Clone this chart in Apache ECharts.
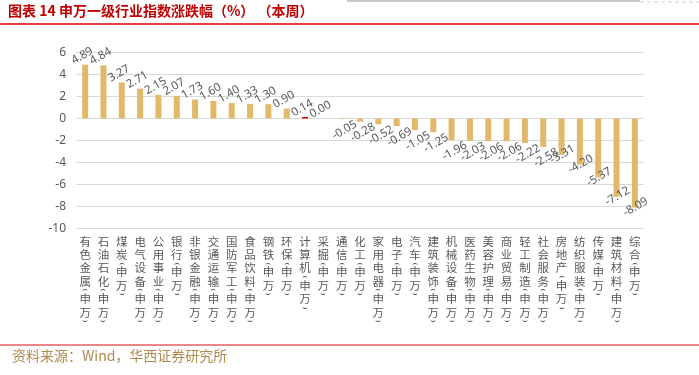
<!DOCTYPE html>
<html>
<head>
<meta charset="utf-8">
<script src="https://cdn.jsdelivr.net/npm/echarts@6/dist/echarts.min.js"></script>
<style>
html,body{margin:0;padding:0;background:#fff;}
#c{width:699px;height:375px;}
</style>
</head>
<body>
<div id="c"></div>
<script>
const titleText = '图表 14 申万一级行业指数涨跌幅（%） （本周）';
const sourceText = '资料来源：Wind，华西证券研究所';
const categories = ['有色金属(申万)','石油石化(申万)','煤炭(申万)','电气设备(申万)','公用事业(申万)','银行(申万)','非银金融(申万)','交通运输(申万)','国防军工(申万)','食品饮料(申万)','钢铁(申万)','环保(申万)','计算机(申万)','采掘(申万)','通信(申万)','化工(申万)','家用电器(申万)','电子(申万)','汽车(申万)','建筑装饰(申万)','机械设备(申万)','医药生物(申万)','美容护理(申万)','商业贸易(申万)','轻工制造(申万)','社会服务(申万)','房地产(申万)','纺织服装(申万)','传媒(申万)','建筑材料(申万)','综合(申万)'];
const values = [4.89,4.84,3.27,2.71,2.15,2.07,1.73,1.60,1.40,1.33,1.30,0.90,0.14,0.00,-0.05,-0.28,-0.52,-0.69,-1.05,-1.25,-1.96,-2.03,-2.06,-2.06,-2.22,-2.58,-3.31,-4.20,-5.37,-7.12,-8.09];
const highlighted = ['计算机(申万)'];
const yTicks = [6,4,2,0,-2,-4,-6,-8,-10];

const barColor = '#E2B86A';
const hiColor = '#E00000';
const grey = '#595959';
const font = '"Noto Sans", "Noto Sans CJK SC", sans-serif';

function catLabel(name){
  const m = name.match(/^(.*)\((.*)\)$/);
  const base = m ? m[1] : name;
  const inner = m ? m[2] : '';
  const lines = [];
  for (const ch of base) lines.push('{c|' + ch + '}');
  if (m) {
    lines.push('{p|\u2322}');
    for (const ch of inner) lines.push('{c|' + ch + '}');
    lines.push('{p|\u2323}');
  }
  return lines.join('\n');
}

const data = values.map((v, i) => {
  const neg = v < 0;
  const deep = v < -3;
  return {
    value: v,
    itemStyle: { color: highlighted.includes(categories[i]) ? hiColor : barColor },
    label: {
      position: neg ? 'bottom' : 'top',
      distance: neg ? 6 : 4,
      offset: deep ? [4, -11] : [0, 0]
    }
  };
});

const chart = echarts.init(document.getElementById('c'), null, {renderer: 'canvas'});
chart.setOption({
  backgroundColor: '#fff',
  animation: false,
  textStyle: { fontFamily: font },
  grid: { left: 76, right: 55, top: 52.5, bottom: 146.5, containLabel: false },
  xAxis: {
    type: 'category',
    data: categories,
    position: 'bottom',
    axisLine: { show: false },
    axisTick: { show: false },
    axisLabel: {
      interval: 0,
      margin: 6,
      color: grey,
      formatter: catLabel,
      verticalAlign: 'top',
      rich: {
        c: { fontSize: 11.5, lineHeight: 13.4, color: grey, fontFamily: '"Noto Sans CJK SC", sans-serif' },
        p: { fontSize: 9, lineHeight: 4, color: grey, fontFamily: '"DejaVu Sans", sans-serif' }
      }
    }
  },
  yAxis: {
    type: 'value',
    min: -10, max: 6, interval: 2,
    axisLine: { show: false },
    axisTick: { show: false },
    axisLabel: { color: grey, fontSize: 12, margin: 10 },
    splitLine: { lineStyle: { color: '#D9D9D9', width: 1 } }
  },
  series: [{
    type: 'bar',
    data: data,
    barWidth: 6,
    label: {
      show: true,
      rotate: 30,
      color: grey,
      fontSize: 11.5,
      formatter: p => p.value.toFixed(2)
    }
  }],
  graphic: [
    { type: 'text', left: 8, top: 4, style: { text: titleText, fill: '#C00000', font: 'bold 14px "Noto Sans CJK SC", sans-serif' } },
    { type: 'line', shape: { x1: 0, y1: 24, x2: 699, y2: 24 }, style: { stroke: '#E00000', lineWidth: 1.5 } },
    { type: 'line', shape: { x1: 347, y1: 1, x2: 640, y2: 1 }, style: { stroke: '#C8C8C8', lineWidth: 2 } },
    { type: 'line', shape: { x1: 640, y1: 2, x2: 699, y2: 2 }, style: { stroke: '#D0D0D0', lineWidth: 1, lineDash: [4, 3] } },
    { type: 'line', shape: { x1: 0, y1: 345, x2: 699, y2: 345 }, style: { stroke: '#E06060', lineWidth: 1.5 } },
    { type: 'text', left: 12, top: 349, style: { text: sourceText, fill: '#B08A4E', font: '14px "Noto Sans CJK SC", sans-serif' } }
  ]
});
</script>
</body>
</html>
